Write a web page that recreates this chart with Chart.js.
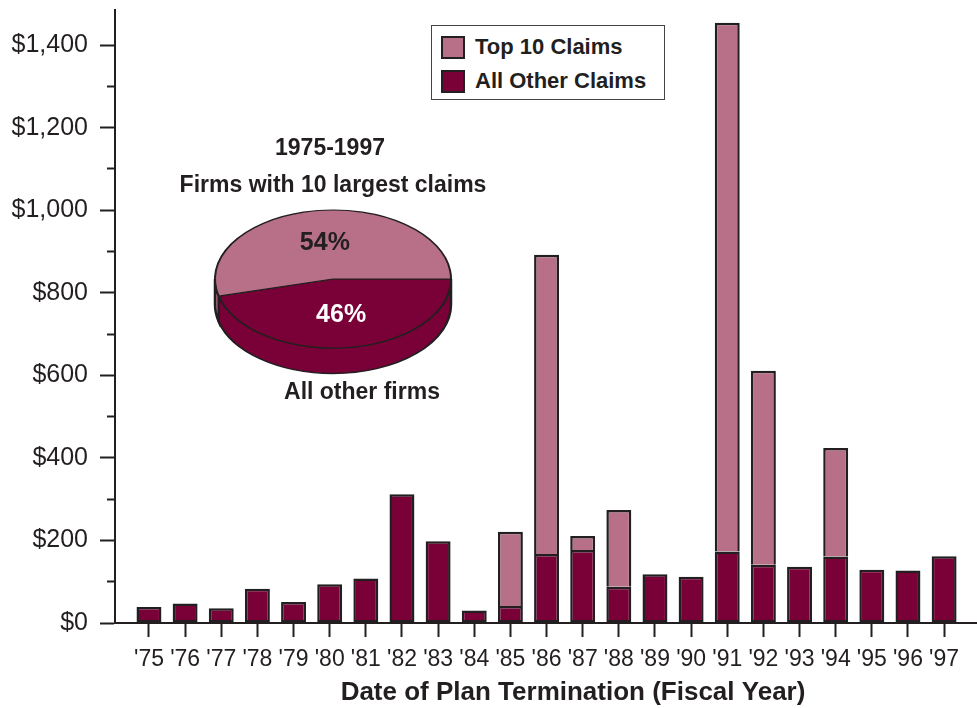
<!DOCTYPE html>
<html>
<head>
<meta charset="utf-8">
<script src="https://cdn.jsdelivr.net/npm/chart.js@4"></script>
<style>
  body { margin: 0; background: #fff; }
  #wrap { position: relative; width: 977px; height: 708px; font-family: "Liberation Sans", Arial, sans-serif; color: #231f20; }
  #main { position: absolute; left: 0; top: 0; }
  #pie { position: absolute; left: 168px; top: 120px; }
  #legend { position: absolute; left: 431px; top: 25px; width: 232px; height: 73px; border: 1.5px solid #444; background: #fff; }
  .item { position: absolute; left: 9px; height: 24px; display: flex; align-items: center; font-weight: bold; font-size: 22px; white-space: nowrap; }
  .sw { width: 20px; height: 19px; border: 2px solid #231f20; margin-right: 10px; }
</style>
</head>
<body>
<div id="wrap">
  <canvas id="main" width="977" height="708"></canvas>
  <canvas id="pie" width="330" height="300"></canvas>
  <div id="legend">
    <div class="item" style="top:9px"><div class="sw" style="background:#b77088"></div>Top 10 Claims</div>
    <div class="item" style="top:43px"><div class="sw" style="background:#7a0038"></div>All Other Claims</div>
  </div>
</div>
<script>
// fiscal years of plan termination
var categories = ["'75", "'76", "'77", "'78", "'79", "'80", "'81", "'82", "'83", "'84", "'85",
  "'86", "'87", "'88", "'89", "'90", "'91", "'92", "'93", "'94", "'95", "'96", "'97"];
// claims in $ millions
var otherClaims = [39, 47, 36, 83, 51, 94, 108, 312, 198, 30, 41,
  167, 177, 88, 118, 112, 173, 141, 136, 161, 129, 127, 162];
var topClaims = [null, null, null, null, null, null, null, null, null, null, 180,
  725, 34, 186, null, null, 1281, 470, null, 263, null, null, null];
// pie inset, 1975-1997
var pieLabels = ["All other firms", "Firms with 10 largest claims"];
var pieShares = [46, 54];

var dark = "#7a0038";
var pink = "#b77088";
var ink = "#231f20";
var family = "'Liberation Sans', Arial, sans-serif";
var xTitle = "Date of Plan Termination (Fiscal Year)";

function points(arr) {
  return categories.map(function (c, i) { return { x: i, y: arr[i] }; });
}

// axis title sits a little right of centre in the original
var xTitlePlugin = {
  id: "xTitle",
  afterDraw: function (chart) {
    var ctx = chart.ctx;
    ctx.save();
    ctx.fillStyle = ink;
    ctx.font = "bold 26px " + family;
    ctx.textAlign = "center";
    ctx.textBaseline = "middle";
    ctx.fillText(xTitle, 573, 693);
    ctx.restore();
  }
};

new Chart(document.getElementById("main").getContext("2d"), {
  type: "bar",
  data: {
    datasets: [
      { label: "All Other Claims", data: points(otherClaims), backgroundColor: dark, borderSkipped: false },
      { label: "Top 10 Claims", data: points(topClaims), backgroundColor: pink, borderSkipped: "start" }
    ]
  },
  options: {
    responsive: false,
    animation: false,
    layout: { padding: { top: 10, right: 0, left: 0, bottom: 0 } },
    datasets: {
      bar: {
        borderColor: ink,
        borderWidth: 2.5,
        categoryPercentage: 1,
        barPercentage: 0.69
      }
    },
    plugins: { legend: { display: false }, tooltip: { enabled: false } },
    scales: {
      x: {
        type: "linear",
        stacked: true,
        offset: false,
        min: -0.94,
        max: 22.91,
        afterBuildTicks: function (scale) {
          scale.ticks = scale.ticks.filter(function (t) {
            return Number.isInteger(t.value) && t.value >= 0 && t.value < categories.length;
          });
        },
        afterFit: function (scale) {
          scale.height = 85;
          scale.paddingLeft = 0;
          scale.paddingRight = 0;
        },
        ticks: {
          stepSize: 1,
          includeBounds: false,
          autoSkip: false,
          maxRotation: 0,
          padding: 9,
          color: ink,
          font: { family: family, size: 23 },
          callback: function (v) { return categories[v]; }
        },
        grid: { offset: false, drawOnChartArea: false, drawTicks: true, tickLength: 14, tickColor: ink, tickWidth: 2 },
        border: { color: ink, width: 2 }
      },
      y: {
        stacked: true,
        min: 0,
        max: 1485,
        afterBuildTicks: function (scale) {
          scale.ticks = scale.ticks.filter(function (t) { return t.value % 100 === 0; });
        },
        afterFit: function (scale) {
          scale.width = 115;
          scale.paddingTop = 0;
          scale.paddingBottom = 0;
        },
        ticks: {
          stepSize: 100,
          includeBounds: false,
          padding: 12,
          color: ink,
          font: { family: family, size: 25 },
          callback: function (v) { return v % 200 === 0 ? "$" + v.toLocaleString("en-US") : ""; }
        },
        grid: {
          drawOnChartArea: false,
          drawTicks: true,
          tickLength: 15,
          tickColor: ink,
          tickWidth: 2,
          tickBorderDash: function (ctx) { return ctx.tick && ctx.tick.value % 200 ? [8, 7] : []; },
          tickBorderDashOffset: function (ctx) { return ctx.tick && ctx.tick.value % 200 ? 8 : 0; }
        },
        border: { color: ink, width: 2 }
      }
    }
  },
  plugins: [xTitlePlugin]
});

// flatten the pie into an ellipse and give it a rim
var squash = 0.585;
var depth = 25.5 / squash;
var pie3d = {
  id: "pie3d",
  beforeDatasetsDraw: function (chart) {
    var ctx = chart.ctx;
    var arcs = chart.getDatasetMeta(0).data;
    var cx = arcs[0].x, cy = arcs[0].y;
    ctx.save();
    ctx.translate(0, cy);
    ctx.scale(1, squash);
    ctx.translate(0, -cy);
    arcs.forEach(function (a) {
      var s = Math.max(a.startAngle, 0);
      var e = Math.min(a.endAngle, Math.PI);
      if (e <= s) return;
      ctx.beginPath();
      ctx.arc(cx, cy + depth, a.outerRadius, s, e);
      ctx.arc(cx, cy, a.outerRadius, e, s, true);
      ctx.closePath();
      ctx.fillStyle = a.options.backgroundColor;
      ctx.fill();
      ctx.lineWidth = 2.5;
      ctx.strokeStyle = ink;
      ctx.stroke();
    });
  },
  afterDatasetsDraw: function (chart) {
    var ctx = chart.ctx;
    ctx.restore();
    var arcs = chart.getDatasetMeta(0).data;
    var cx = arcs[0].x, cy = arcs[0].y, r = arcs[0].outerRadius;
    ctx.save();
    ctx.textAlign = "center";
    ctx.textBaseline = "middle";
    arcs.forEach(function (a, i) {
      var mid = (a.startAngle + a.endAngle) / 2;
      ctx.fillStyle = i === 0 ? "#fff" : ink;
      ctx.font = "bold 25px " + family;
      ctx.fillText(pieShares[i] + "%", cx + Math.cos(mid) * r * 0.55, cy + Math.sin(mid) * r * squash * 0.52);
    });
    ctx.fillStyle = ink;
    ctx.font = "bold 23px " + family;
    ctx.fillText("1975-1997", cx - 3, cy - 130);
    ctx.fillText(pieLabels[1], cx, cy - 93);
    ctx.fillText(pieLabels[0], cx + 29, cy + 114);
    ctx.restore();
  }
};

new Chart(document.getElementById("pie").getContext("2d"), {
  type: "pie",
  data: {
    labels: pieLabels,
    datasets: [{ data: pieShares, backgroundColor: [dark, pink], borderColor: ink, borderWidth: 2, clip: false }]
  },
  options: {
    responsive: false,
    animation: false,
    rotation: 90,
    layout: { padding: { left: 46, right: 46, top: 40, bottom: 22 } },
    plugins: { legend: { display: false }, tooltip: { enabled: false } }
  },
  plugins: [pie3d]
});
</script>
</body>
</html>
